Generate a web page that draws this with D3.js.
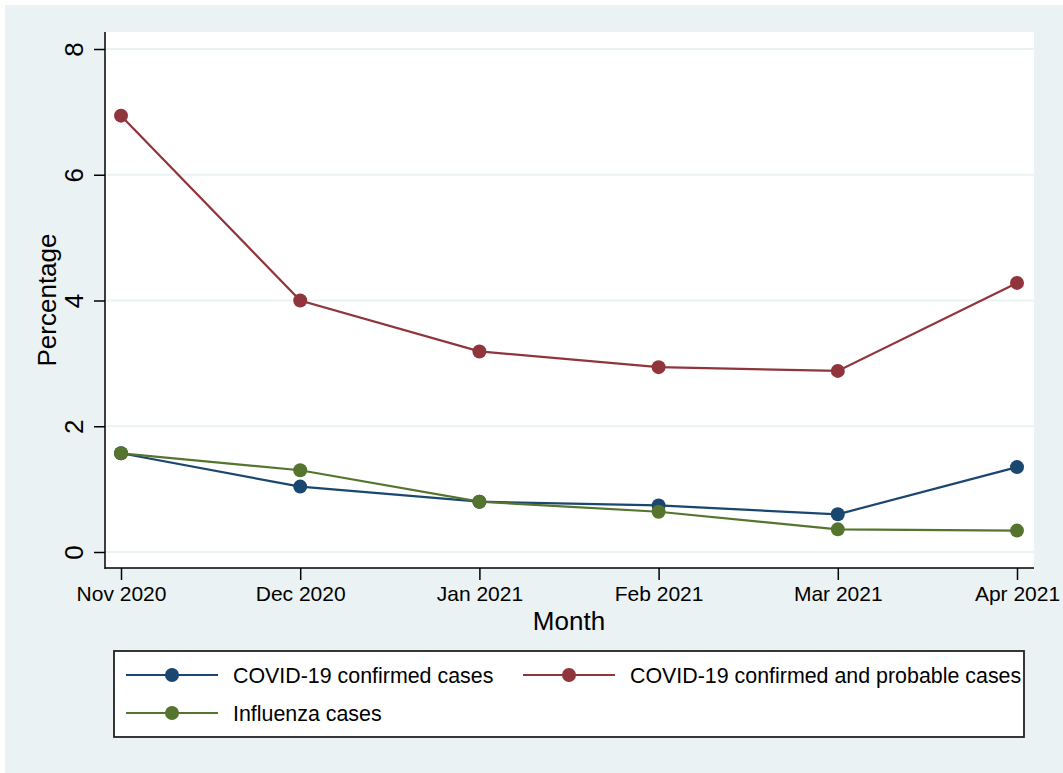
<!DOCTYPE html>
<html>
<head>
<meta charset="utf-8">
<script src="https://cdn.jsdelivr.net/npm/d3@7"></script>
<style>
  html, body { margin: 0; padding: 0; background: #ffffff; }
  text { font-family: "Liberation Sans", Arial, Helvetica, sans-serif; fill: #000; }
</style>
</head>
<body>
<svg id="chart" width="1063" height="773"></svg>
<script>
const months = ["Nov 2020", "Dec 2020", "Jan 2021", "Feb 2021", "Mar 2021", "Apr 2021"];
const confirmed = [1.57, 1.04, 0.80, 0.74, 0.60, 1.35];
const confirmedProbable = [6.94, 4.00, 3.19, 2.94, 2.88, 4.28];
const influenza = [1.57, 1.30, 0.80, 0.64, 0.36, 0.34];
const yTicks = [0, 2, 4, 6, 8];
const seriesNames = ["COVID-19 confirmed cases", "COVID-19 confirmed and probable cases", "Influenza cases"];
const seriesColors = ["#1a476f", "#90353b", "#55752f"];

const series = [
  { name: seriesNames[0], color: seriesColors[0], values: confirmed },
  { name: seriesNames[1], color: seriesColors[1], values: confirmedProbable },
  { name: seriesNames[2], color: seriesColors[2], values: influenza }
];

const svg = d3.select("#chart");
const bg = "#eaf2f3";

// outer background
svg.append("rect").attr("x", 5).attr("y", 5).attr("width", 1058).attr("height", 768).attr("fill", bg);

const plot = { left: 105, right: 1034, top: 32, bottom: 568 };
svg.append("rect").attr("x", plot.left).attr("y", plot.top)
  .attr("width", plot.right - plot.left).attr("height", plot.bottom - plot.top)
  .attr("fill", "#ffffff");

const x = d3.scalePoint().domain(months).range([121, 1017]);
const y = d3.scaleLinear().domain([0, 8]).range([552, 49]);

// gridlines
svg.append("g").selectAll("line").data(yTicks).join("line")
  .attr("x1", plot.left).attr("x2", plot.right)
  .attr("y1", d => y(d)).attr("y2", d => y(d))
  .attr("stroke", bg).attr("stroke-width", 2);

// y axis
const yAxis = svg.append("g").attr("transform", `translate(${plot.left},0)`)
  .call(d3.axisLeft(y).tickValues(yTicks).tickSize(11).tickFormat(d3.format("d")));
yAxis.select(".domain").remove();
yAxis.selectAll(".tick line").attr("stroke", "#000").attr("stroke-width", 1.5);
yAxis.selectAll(".tick text")
  .attr("x", null).attr("dy", null)
  .attr("transform", "translate(-22,0) rotate(-90)")
  .attr("text-anchor", "middle")
  .style("font-size", "26px")
  .style("font-family", '"Liberation Sans", Arial, sans-serif')
  .attr("fill", "#000");
svg.append("line").attr("x1", plot.left).attr("x2", plot.left)
  .attr("y1", plot.top).attr("y2", plot.bottom + 1)
  .attr("stroke", "#000").attr("stroke-width", 1.5);

// x axis
const xAxis = svg.append("g").attr("transform", `translate(0,${plot.bottom})`)
  .call(d3.axisBottom(x).tickSize(12).tickPadding(0));
xAxis.select(".domain").remove();
xAxis.selectAll(".tick line").attr("stroke", "#000").attr("stroke-width", 1.5);
xAxis.selectAll(".tick text")
  .attr("y", 33).attr("dy", null)
  .style("font-size", "21px")
  .style("font-family", '"Liberation Sans", Arial, sans-serif')
  .attr("fill", "#000");
svg.append("line").attr("x1", plot.left).attr("x2", plot.right)
  .attr("y1", plot.bottom).attr("y2", plot.bottom)
  .attr("stroke", "#000").attr("stroke-width", 1.5);

// axis titles
svg.append("text").attr("x", 569).attr("y", 630).attr("text-anchor", "middle")
  .style("font-size", "26px").text("Month");
svg.append("text").attr("transform", "translate(56,300) rotate(-90)").attr("text-anchor", "middle")
  .style("font-size", "26px").text("Percentage");

// lines
const line = d3.line().x((d, i) => x(months[i])).y(d => y(d));
const drawOrder = [series[1], series[0], series[2]];
drawOrder.forEach(s => {
  svg.append("path").datum(s.values).attr("d", line)
    .attr("fill", "none").attr("stroke", s.color).attr("stroke-width", 2.2);
});
drawOrder.forEach(s => {
  svg.append("g").selectAll("circle").data(s.values).join("circle")
    .attr("cx", (d, i) => x(months[i])).attr("cy", d => y(d)).attr("r", 7)
    .attr("fill", s.color);
});

// legend
const lg = svg.append("g");
lg.append("rect").attr("x", 114).attr("y", 651).attr("width", 910).attr("height", 86)
  .attr("fill", "#fff").attr("stroke", "#222").attr("stroke-width", 1.8);
const legendPos = [
  { x: 126, y: 675 },
  { x: 523, y: 675 },
  { x: 126, y: 713 }
];
series.forEach((s, i) => {
  const p = legendPos[i];
  lg.append("line").attr("x1", p.x).attr("x2", p.x + 92).attr("y1", p.y).attr("y2", p.y)
    .attr("stroke", s.color).attr("stroke-width", 2.2);
  lg.append("circle").attr("cx", p.x + 46).attr("cy", p.y).attr("r", 7).attr("fill", s.color);
  lg.append("text").attr("x", p.x + 107).attr("y", p.y + 8)
    .style("font-size", "21.4px").text(s.name);
});
</script>
</body>
</html>
